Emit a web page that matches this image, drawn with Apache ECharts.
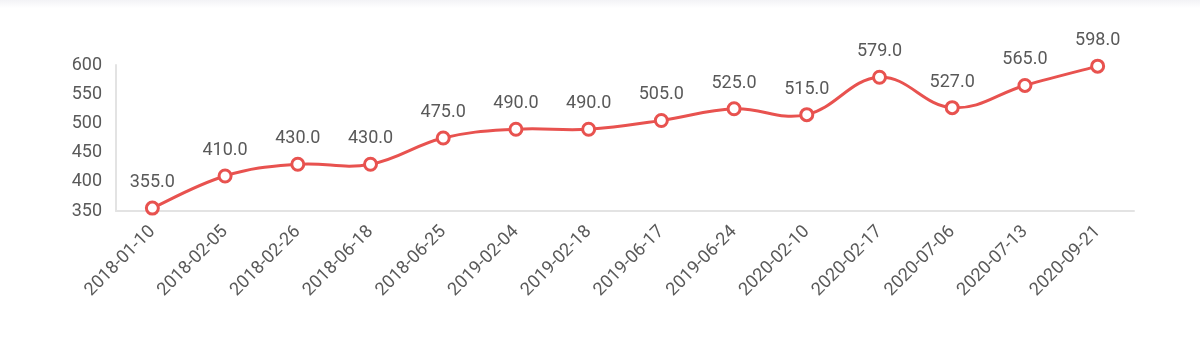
<!DOCTYPE html>
<html>
<head>
<meta charset="utf-8">
<script src="https://cdn.jsdelivr.net/npm/echarts@6/dist/echarts.min.js"></script>
<style>
html,body{margin:0;padding:0;background:#fff;}
#c{width:1200px;height:342px;}
#shade{position:absolute;left:0;top:0;width:1200px;height:8px;background:linear-gradient(#f3f3f6,#fff);}
</style>
</head>
<body>
<div id="shade"></div>
<div id="c"></div>
<script>
const categories = ['2018-01-10','2018-02-05','2018-02-26','2018-06-18','2018-06-25','2019-02-04','2019-02-18','2019-06-17','2019-06-24','2020-02-10','2020-02-17','2020-07-06','2020-07-13','2020-09-21'];
const values = [355, 410, 430, 430, 475, 490, 490, 505, 525, 515, 579, 527, 565, 598];
const yTicks = {min: 350, max: 600, interval: 50};

const RED = '#e8524f';
const TXT = '#595959';
const FONT = 'Roboto';

const chart = echarts.init(document.getElementById('c'));

function renderCurve(params, api) {
  if (params.dataIndex !== 0) return null;
  const pts = values.map((v, i) => api.coord([i, v]));
  const k = 0.2;
  let d = 'M' + pts[0][0] + ' ' + pts[0][1];
  for (let i = 0; i < pts.length - 1; i++) {
    const p0 = pts[Math.max(i - 1, 0)], p1 = pts[i], p2 = pts[i + 1], p3 = pts[Math.min(i + 2, pts.length - 1)];
    const c1x = p1[0] + (p2[0] - p0[0]) * k, c1y = p1[1] + (p2[1] - p0[1]) * k;
    const c2x = p2[0] - (p3[0] - p1[0]) * k, c2y = p2[1] - (p3[1] - p1[1]) * k;
    d += ' C' + c1x + ' ' + c1y + ' ' + c2x + ' ' + c2y + ' ' + p2[0] + ' ' + p2[1];
  }
  return {type: 'path', shape: {pathData: d}, style: {fill: null, stroke: RED, lineWidth: 3, lineJoin: 'round'}};
}

chart.setOption({
  animation: false,
  grid: {left: 116, right: 66, top: 65, bottom: 131, containLabel: false},
  xAxis: {
    type: 'category',
    data: categories,
    boundaryGap: true,
    axisLine: {show: true, lineStyle: {color: '#e3e3e3', width: 2}},
    axisTick: {show: false},
    axisLabel: {rotate: 45, color: TXT, fontSize: 18, fontFamily: FONT, margin: 18, interval: 0}
  },
  yAxis: {
    type: 'value',
    min: yTicks.min, max: yTicks.max, interval: yTicks.interval,
    axisLine: {show: true, lineStyle: {color: '#e3e3e3', width: 2}},
    axisTick: {show: false},
    splitLine: {show: false},
    axisLabel: {color: TXT, fontSize: 18, fontFamily: FONT, margin: 14}
  },
  series: [{
    type: 'custom',
    z: 2,
    data: values.map((v, i) => [i, v]),
    renderItem: renderCurve,
    silent: true
  }, {
    type: 'line',
    z: 3,
    data: values,
    symbol: 'circle',
    symbolSize: 12,
    lineStyle: {opacity: 0},
    itemStyle: {color: '#ffffff', borderColor: RED, borderWidth: 3},
    label: {show: true, position: 'top', distance: 9, color: TXT, fontSize: 18, fontFamily: FONT,
      formatter: p => p.value.toFixed(1)}
  }]
});
</script>
</body>
</html>
